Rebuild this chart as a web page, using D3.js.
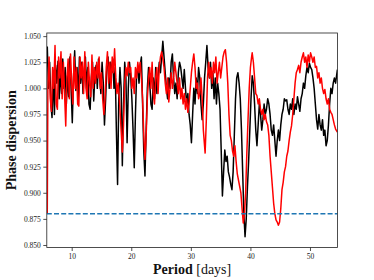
<!DOCTYPE html>
<html>
<head>
<meta charset="utf-8">
<script src="https://cdn.jsdelivr.net/npm/d3@7"></script>
<style>
  body { margin: 0; background: #fff; }
  svg { display: block; }
</style>
</head>
<body>
<svg id="chart" width="374" height="280"></svg>
<script>
// phase dispersion vs trial period, two runs [period, value]
var blackSeries = [
  [5.9,1.040],[6.1,1.000],[6.3,1.025],[6.5,0.985],[6.7,0.972],[6.9,1.015],[7.1,0.975],[7.3,1.022],
  [7.5,1.005],[7.7,1.026],[7.9,0.990],[8.1,1.018],[8.3,0.995],[8.5,1.028],[8.7,1.000],[8.9,1.020],
  [9.1,0.985],[9.3,1.012],[9.5,0.992],[9.7,1.030],[9.9,1.000],[10.1,0.967],[10.3,1.010],[10.5,1.036],
  [10.7,0.998],[10.9,1.020],[11.1,0.990],[11.3,1.030],[11.5,1.005],[11.7,1.025],[11.9,0.995],[12.1,1.015],
  [12.3,1.030],[12.5,1.000],[12.7,1.020],[12.9,0.985],[13.1,0.980],[13.3,1.010],[13.5,1.025],[13.7,0.988],
  [13.9,1.015],[14.1,1.022],[14.3,1.000],[14.5,1.028],[14.7,1.010],[14.9,0.995],[15.1,1.025],[15.3,1.005],
  [15.5,0.965],[15.7,0.990],[15.9,1.020],[16.1,1.030],[16.3,1.000],[16.5,1.025],[16.7,1.015],[16.9,1.028],
  [17.1,1.000],[17.3,1.020],[17.5,0.960],[17.7,0.908],[17.9,0.990],[18.1,1.020],[18.3,1.000],[18.5,0.926],
  [18.7,0.985],[18.9,1.025],[19.1,1.010],[19.3,0.948],[19.5,1.000],[19.7,1.025],[19.9,1.012],[20.1,0.990],
  [20.3,0.960],[20.5,0.924],[20.7,0.975],[20.9,1.015],[21.1,1.020],[21.3,1.005],[21.5,1.022],[21.7,1.030],
  [21.9,0.985],[22.1,0.940],[22.3,0.916],[22.5,0.960],[22.7,1.000],[22.9,1.020],[23.1,1.005],[23.3,0.985],
  [23.5,0.980],[23.7,1.010],[23.9,0.990],[24.1,1.020],[24.3,0.995],[24.5,1.010],[24.7,1.025],[24.9,1.015],
  [25.1,1.030],[25.3,1.045],[25.5,1.030],[25.7,1.015],[25.9,1.000],[26.1,0.990],[26.3,1.010],[26.5,1.000],
  [26.7,1.025],[26.9,1.033],[27.1,1.010],[27.3,0.995],[27.5,1.005],[27.7,0.990],[27.9,1.015],[28.1,1.025],
  [28.3,1.020],[28.5,1.010],[28.7,1.000],[28.9,1.018],[29.1,1.000],[29.3,0.985],[29.5,0.995],[29.7,0.975],
  [29.9,0.965],[30.1,0.948],[30.3,0.975],[30.5,1.000],[30.7,0.985],[30.9,1.010],[31.1,0.995],[31.3,1.020],
  [31.5,1.010],[31.7,0.985],[31.9,0.970],[32.1,0.985],[32.3,1.010],[32.5,1.025],[32.7,1.041],[32.9,1.020],
  [33.1,1.010],[33.3,1.025],[33.5,1.000],[33.7,1.015],[33.9,0.990],[34.1,1.010],[34.3,0.985],[34.5,1.005],
  [34.7,0.995],[34.9,0.980],[35.1,0.940],[35.3,0.897],[35.5,0.920],[35.7,0.941],[35.9,0.930],[36.1,0.935],
  [36.3,0.920],[36.5,0.915],[36.7,0.908],[36.9,0.903],[37.1,0.920],[37.3,0.955],[37.5,0.990],[37.7,1.010],
  [37.9,1.015],[38.1,1.005],[38.3,0.990],[38.5,0.960],[38.7,0.920],[38.9,0.880],[39.1,0.858],[39.3,0.875],
  [39.5,0.905],[39.7,0.930],[39.9,0.960],[40.1,0.990],[40.3,1.012],[40.5,1.005],[40.7,0.985],[40.9,0.960],
  [41.1,0.945],[41.3,0.965],[41.5,0.985],[41.7,0.975],[41.9,0.960],[42.1,0.970],[42.3,0.985],[42.5,0.975],
  [42.7,0.980],[42.9,0.990],[43.1,0.985],[43.3,0.975],[43.5,0.960],[43.7,0.955],[43.9,0.965],[44.1,0.950],
  [44.3,0.935],[44.5,0.950],[44.7,0.960],[44.9,0.950],[45.1,0.965],[45.3,0.975],[45.5,0.980],[45.7,0.990],
  [45.9,0.988],[46.1,0.989],[46.3,0.980],[46.5,0.975],[46.7,0.985],[46.9,0.980],[47.1,0.990],[47.3,0.975],
  [47.5,0.985],[47.7,0.980],[47.9,0.992],[48.1,0.985],[48.3,0.978],[48.5,0.990],[48.7,0.995],[48.9,1.005],
  [49.1,1.000],[49.3,1.012],[49.5,1.020],[49.7,1.015],[49.9,1.024],[50.1,1.020],[50.3,1.018],[50.5,1.010],
  [50.7,1.000],[50.9,0.985],[51.1,0.970],[51.3,0.961],[51.5,0.975],[51.7,0.965],[51.9,0.960],[52.1,0.970],
  [52.3,0.955],[52.5,0.960],[52.7,0.945],[52.9,0.950],[53.1,0.965],[53.3,0.985],[53.5,1.000],[53.7,0.995],
  [53.9,1.005],[54.1,1.010],[54.3,1.005],[54.6,1.018]
];

var redSeries = [
  [5.9,0.880],[6.0,1.000],[6.2,1.030],[6.4,0.990],[6.6,0.978],[6.8,1.020],[7.0,1.000],[7.2,1.041],
  [7.4,0.985],[7.6,0.980],[7.8,1.030],[8.0,1.010],[8.2,1.035],[8.4,0.990],[8.6,1.025],[8.8,0.995],
  [9.0,0.964],[9.2,1.010],[9.4,1.028],[9.6,0.990],[9.8,1.033],[10.0,1.005],[10.2,0.985],[10.4,1.030],
  [10.6,1.000],[10.8,1.020],[11.0,0.985],[11.2,0.983],[11.4,1.030],[11.6,1.010],[11.8,1.025],[12.0,0.995],
  [12.2,1.035],[12.4,1.000],[12.6,0.990],[12.8,1.025],[13.0,1.005],[13.2,0.992],[13.4,1.032],[13.6,1.000],
  [13.8,1.020],[14.0,1.005],[14.2,1.025],[14.4,1.010],[14.6,1.030],[14.8,1.000],[15.0,1.015],[15.2,0.990],
  [15.4,0.975],[15.6,0.990],[15.8,1.020],[16.0,1.035],[16.2,1.005],[16.4,1.025],[16.6,1.000],[16.8,1.030],
  [17.0,1.015],[17.2,1.038],[17.4,1.010],[17.6,0.995],[17.8,1.005],[18.0,0.990],[18.2,0.970],[18.5,0.939],
  [18.7,0.965],[18.9,1.005],[19.1,1.020],[19.3,1.012],[19.5,1.025],[19.7,1.015],[19.9,1.020],[20.1,1.000],
  [20.3,1.010],[20.5,0.995],[20.7,1.020],[20.9,1.010],[21.1,1.025],[21.3,1.015],[21.5,1.025],[21.7,1.010],
  [21.9,0.990],[22.1,0.955],[22.3,0.932],[22.5,0.955],[22.7,0.990],[22.9,1.010],[23.1,1.020],[23.3,1.000],
  [23.5,1.025],[23.7,0.995],[23.9,0.985],[24.1,1.010],[24.3,1.020],[24.5,0.995],[24.7,1.020],[24.9,1.030],
  [25.1,1.035],[25.3,1.028],[25.5,1.020],[25.7,1.005],[25.9,0.995],[26.1,1.010],[26.3,0.987],[26.5,1.000],
  [26.7,1.015],[26.9,1.000],[27.1,1.010],[27.3,1.025],[27.5,1.015],[27.7,1.005],[27.9,0.995],[28.1,1.010],
  [28.3,0.990],[28.5,1.000],[28.7,0.985],[28.9,0.995],[29.1,0.980],[29.3,0.990],[29.5,0.977],[29.7,0.985],
  [29.9,1.000],[30.1,1.015],[30.3,1.025],[30.5,1.033],[30.7,1.020],[30.9,1.000],[31.1,1.005],[31.3,0.990],
  [31.5,0.995],[31.7,1.010],[31.9,0.990],[32.1,0.960],[32.4,0.938],[32.6,0.970],[32.8,1.010],[33.0,1.025],
  [33.2,1.010],[33.4,1.020],[33.6,1.005],[33.8,1.025],[34.0,1.015],[34.2,1.030],[34.4,1.005],[34.6,1.015],
  [34.8,1.025],[35.0,1.010],[35.2,1.020],[35.4,1.030],[35.6,1.035],[35.8,1.037],[36.0,1.025],[36.2,1.005],
  [36.4,0.975],[36.6,0.955],[36.8,0.950],[37.0,0.940],[37.2,0.935],[37.4,0.945],[37.6,0.930],[37.8,0.918],
  [38.0,0.912],[38.2,0.906],[38.4,0.900],[38.6,0.885],[38.8,0.871],[39.0,0.880],[39.2,0.900],[39.4,0.938],
  [39.6,0.970],[39.8,1.000],[40.0,1.020],[40.2,1.030],[40.3,1.034],[40.5,1.025],[40.7,1.010],[40.9,0.995],
  [41.1,0.993],[41.3,0.985],[41.5,0.990],[41.7,0.980],[41.9,0.975],[42.1,0.980],[42.3,0.970],[42.5,0.975],
  [42.7,0.968],[42.9,0.965],[43.1,0.955],[43.3,0.935],[43.5,0.920],[43.7,0.905],[43.9,0.890],[44.1,0.880],
  [44.3,0.874],[44.5,0.872],[44.7,0.869],[44.9,0.872],[45.1,0.885],[45.3,0.903],[45.5,0.910],[45.7,0.920],
  [45.9,0.925],[46.1,0.935],[46.3,0.940],[46.5,0.950],[46.7,0.958],[46.9,0.964],[47.1,0.975],[47.3,0.990],
  [47.5,1.005],[47.7,1.015],[47.9,1.018],[48.1,1.022],[48.3,1.015],[48.5,1.025],[48.7,1.030],[48.9,1.034],
  [49.1,1.025],[49.3,1.030],[49.5,1.020],[49.7,1.032],[49.9,1.025],[50.1,1.034],[50.3,1.030],[50.5,1.025],
  [50.7,1.030],[50.9,1.020],[51.1,1.021],[51.3,1.010],[51.5,1.015],[51.7,1.005],[51.9,1.010],[52.1,1.000],
  [52.3,0.995],[52.5,0.999],[52.7,0.990],[52.9,0.985],[53.1,0.990],[53.3,0.980],[53.5,0.977],[53.7,0.975],
  [53.9,0.970],[54.1,0.965],[54.3,0.961],[54.6,0.958]
];

var threshold = 0.880;
var xTicks = [10, 20, 30, 40, 50];
var yTicks = [0.850, 0.875, 0.900, 0.925, 0.950, 0.975, 1.000, 1.025, 1.050];

var svg = d3.select("#chart"),
    margin = {top: 33, right: 36.5, bottom: 32.5, left: 46.8},
    width = +svg.attr("width") - margin.left - margin.right,
    height = +svg.attr("height") - margin.top - margin.bottom,
    g = svg.append("g").attr("transform", "translate(" + margin.left + "," + margin.top + ")");

var x = d3.scaleLinear().domain([5.82, 54.62]).range([0, width]);
var y = d3.scaleLinear().domain([0.8476, 1.0530]).range([height, 0]);

var serif = "'Liberation Serif', 'DejaVu Serif', serif";

svg.append("defs").append("clipPath").attr("id", "plot-clip")
  .append("rect").attr("width", width).attr("height", height);

var line = d3.line()
  .x(function(d) { return x(d[0]); })
  .y(function(d) { return y(d[1]); });

var plot = g.append("g").attr("clip-path", "url(#plot-clip)");

plot.append("path")
  .datum(blackSeries)
  .attr("fill", "none")
  .attr("stroke", "#000")
  .attr("stroke-width", 1.5)
  .attr("stroke-linejoin", "round")
  .attr("d", line);

plot.append("path")
  .datum(redSeries)
  .attr("fill", "none")
  .attr("stroke", "#ff0000")
  .attr("stroke-width", 1.5)
  .attr("stroke-linejoin", "round")
  .attr("d", line);

// threshold
plot.append("line")
  .attr("x1", 0).attr("x2", width)
  .attr("y1", y(threshold)).attr("y2", y(threshold))
  .attr("stroke", "#1f77b4")
  .attr("stroke-width", 1.5)
  .attr("stroke-dasharray", "5,2.2");

// axes
var xAxis = g.append("g")
  .attr("transform", "translate(0," + height + ")")
  .call(d3.axisBottom(x).tickValues(xTicks).tickSize(3.5).tickPadding(2.5).tickFormat(d3.format("d")));

var yAxis = g.append("g")
  .call(d3.axisLeft(y).tickValues(yTicks).tickSize(3.5).tickPadding(2.5).tickFormat(d3.format(".3f")));

[xAxis, yAxis].forEach(function(a) {
  a.select(".domain").remove();
  a.selectAll("line").attr("stroke", "#222").attr("stroke-width", 0.8);
  a.selectAll("text")
    .style("font-family", serif)
    .style("font-size", "7.5px")
    .attr("fill", "#222");
});

// frame
g.append("rect")
  .attr("width", width).attr("height", height)
  .attr("fill", "none")
  .attr("stroke", "#222")
  .attr("stroke-width", 0.8);

// labels
var xl = svg.append("text")
  .attr("x", margin.left + width / 2)
  .attr("y", 274)
  .attr("text-anchor", "middle")
  .style("font-family", serif)
  .style("font-size", "14px")
  .attr("fill", "#111");
xl.append("tspan").attr("font-weight", "bold").text("Period");
xl.append("tspan").text(" [days]");

svg.append("text")
  .attr("transform", "translate(16," + (margin.top + height / 2) + ") rotate(-90)")
  .attr("text-anchor", "middle")
  .style("font-family", serif)
  .style("font-size", "14px")
  .attr("font-weight", "bold")
  .attr("fill", "#111")
  .text("Phase dispersion");
</script>
</body>
</html>
